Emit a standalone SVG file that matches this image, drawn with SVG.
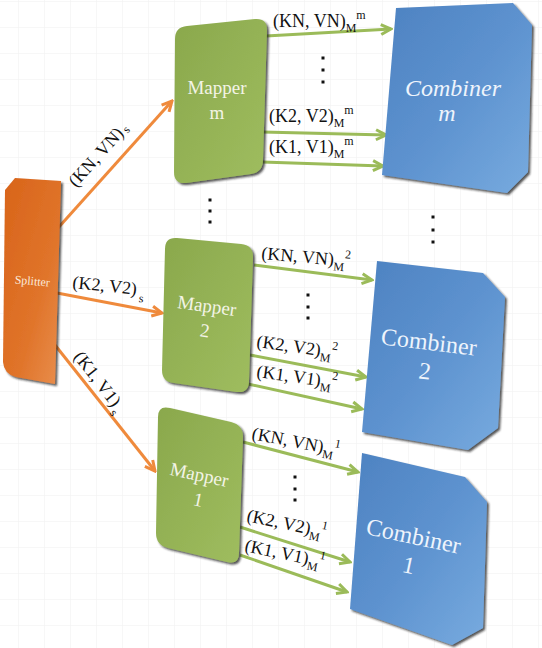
<svg xmlns="http://www.w3.org/2000/svg" width="542" height="648" viewBox="0 0 542 648">
<defs>
<pattern id="grid" x="18" y="1" width="26" height="26" patternUnits="userSpaceOnUse">
<path d="M0,0 H26 M0,0 V26" fill="none" stroke="#efefef" stroke-width="1"/>
</pattern>
<linearGradient id="gOr" x1="0" y1="0" x2="1" y2="1">
<stop offset="0" stop-color="#d8641a"/><stop offset="0.6" stop-color="#e0742a"/><stop offset="1" stop-color="#e98f4e"/>
</linearGradient>
<linearGradient id="gGr" x1="0" y1="0" x2="1" y2="1">
<stop offset="0" stop-color="#8aa84c"/><stop offset="1" stop-color="#9fbd5f"/>
</linearGradient>
<linearGradient id="gBl" x1="0" y1="0" x2="1" y2="1">
<stop offset="0" stop-color="#4d82c1"/><stop offset="0.5" stop-color="#5d92cf"/><stop offset="1" stop-color="#78abdf"/>
</linearGradient>
<filter id="sh" x="-10%" y="-10%" width="125%" height="125%">
<feDropShadow dx="2" dy="2" stdDeviation="1.2" flood-color="#1a1a1a" flood-opacity="0.75"/>
</filter>
<marker id="aO" markerUnits="userSpaceOnUse" viewBox="0 0 14 14" markerWidth="14" markerHeight="14" refX="12" refY="7" orient="auto">
<path d="M2,2 L12,7 L2,12" fill="none" stroke="#ef8a3c" stroke-width="3"/>
</marker>
<marker id="aG" markerUnits="userSpaceOnUse" viewBox="0 0 14 14" markerWidth="14" markerHeight="14" refX="12" refY="7" orient="auto">
<path d="M2,2 L12,7 L2,12" fill="none" stroke="#9bbb59" stroke-width="3"/>
</marker>
</defs>
<style>
.or{fill:none;stroke:#ef8a3c;stroke-width:3;marker-end:url(#aO)}
.gr{fill:none;stroke:#9bbb59;stroke-width:3;marker-end:url(#aG)}
.lbl{font-family:"Liberation Serif","DejaVu Serif",serif;font-size:18px;fill:#111}
.sm{font-size:12px}
.mp{font-family:"Liberation Serif","DejaVu Serif",serif;font-size:19px;fill:#f3f4e6;text-anchor:middle}
.cb{font-family:"Liberation Serif","DejaVu Serif",serif;font-size:24px;fill:#eef4fc;text-anchor:middle}
.dot{fill:#111}
</style>
<rect width="542" height="648" fill="#ffffff"/>
<rect width="542" height="648" fill="url(#grid)"/>

<g id="connectors">
<path class="or" d="M58,228 L172,101"/>
<path class="or" d="M57,293 L162,313"/>
<path class="or" d="M55,345 L155,471"/>
<path class="gr" d="M266,36 L391,29"/>
<path class="gr" d="M262,132 L386,135"/>
<path class="gr" d="M262,162 L383,166"/>
<path class="gr" d="M254,265 L372,280"/>
<path class="gr" d="M250,355 L366,377"/>
<path class="gr" d="M248,384 L362,409"/>
<path class="gr" d="M243,442 L358,472"/>
<path class="gr" d="M240,527 L350,562"/>
<path class="gr" d="M240,555 L347,592"/>
<g class="lbl">
<text transform="translate(76,188) rotate(-48)">(KN, VN)<tspan class="sm" dx="2" dy="2">s</tspan></text>
<text transform="translate(72,288) rotate(6)">(K2, V2)<tspan class="sm" dx="3" dy="7">s</tspan></text>
<text transform="translate(73,357) rotate(52)">(K1, V1)<tspan class="sm" dx="2" dy="6">s</tspan></text>
<text x="273" y="27">(KN, VN)<tspan class="sm" dy="5">M</tspan><tspan class="sm" dy="-13">m</tspan></text>
<text x="269" y="122">(K2, V2)<tspan class="sm" dy="5">M</tspan><tspan class="sm" dy="-13">m</tspan></text>
<text x="269" y="153">(K1, V1)<tspan class="sm" dy="5">M</tspan><tspan class="sm" dy="-13">m</tspan></text>
<text transform="translate(261,259) rotate(5)">(KN, VN)<tspan class="sm" dy="5">M</tspan><tspan class="sm" dy="-13">2</tspan></text>
<text transform="translate(256,347) rotate(8)">(K2, V2)<tspan class="sm" dy="5">M</tspan><tspan class="sm" dy="-13">2</tspan></text>
<text transform="translate(256,377) rotate(8)">(K1, V1)<tspan class="sm" dy="5">M</tspan><tspan class="sm" dy="-13">2</tspan></text>
<text transform="translate(251,439) rotate(11)">(KN, VN)<tspan class="sm" dy="5">M</tspan><tspan class="sm" dy="-13">1</tspan></text>
<text transform="translate(246,521) rotate(12)">(K2, V2)<tspan class="sm" dy="5">M</tspan><tspan class="sm" dy="-13">1</tspan></text>
<text transform="translate(244,551) rotate(12)">(K1, V1)<tspan class="sm" dy="5">M</tspan><tspan class="sm" dy="-13">1</tspan></text>
</g>
<g class="dot">
<rect x="321.5" y="56.5" width="3" height="3"/><rect x="321.5" y="68.5" width="3" height="3"/><rect x="321.5" y="80.5" width="3" height="3"/>
<rect x="208.5" y="198.5" width="3" height="3"/><rect x="208.5" y="209.5" width="3" height="3"/><rect x="208.5" y="220.5" width="3" height="3"/>
<rect x="306.5" y="293.5" width="3" height="3"/><rect x="306.5" y="305.5" width="3" height="3"/><rect x="306.5" y="316.5" width="3" height="3"/>
<rect x="293.5" y="475.5" width="3" height="3"/><rect x="293.5" y="487.5" width="3" height="3"/><rect x="293.5" y="498.5" width="3" height="3"/>
<rect x="431.5" y="215.5" width="3" height="3"/><rect x="431.5" y="228.5" width="3" height="3"/><rect x="431.5" y="240.5" width="3" height="3"/>
</g>
</g>

<g id="splitter">
<path d="M15,178 L61,181 L55,384 L16,377 Q4,374 3,362 L5,190 Z" fill="url(#gOr)" filter="url(#sh)"/>
<text transform="translate(32,285) rotate(5)" font-family="Liberation Serif, DejaVu Serif, serif" font-size="12" fill="#fbeadb" text-anchor="middle">Splitter</text>
</g>

<g id="mapper-m">
<path d="M175,39 Q175,27 187,26 L255,19 Q267,18 267,30 L263,160 Q263,172 251,174 L186,183 Q174,184 174,172 Z" fill="url(#gGr)" filter="url(#sh)"/>
<text class="mp" x="217" y="94">Mapper</text>
<text class="mp" x="217" y="119">m</text>
</g>
<g id="mapper-2">
<path d="M165,249 Q165,237 177,238 L241,244 Q253,245 253,257 L249,381 Q249,393 237,392 L174,383 Q162,382 162,370 Z" fill="url(#gGr)" filter="url(#sh)"/>
<text class="mp" transform="translate(206,312) rotate(8)">Mapper</text>
<text class="mp" transform="translate(204,337) rotate(8)">2</text>
</g>
<g id="mapper-1">
<path d="M158,417 Q158,405 170,408 L231,422 Q243,425 243,437 L239,553 Q239,565 227,562 L168,548 Q156,545 156,533 Z" fill="url(#gGr)" filter="url(#sh)"/>
<text class="mp" transform="translate(198,481) rotate(12)">Mapper</text>
<text class="mp" transform="translate(197,506) rotate(12)">1</text>
</g>

<g id="combiner-m">
<path d="M396,8 L513,3 L532,25 L528,172 L507,193 L382,175 Z" fill="url(#gBl)" filter="url(#sh)"/>
<text class="cb" x="453" y="96" font-style="italic">Combiner</text>
<text class="cb" x="447" y="121" font-style="italic">m</text>
</g>
<g id="combiner-2">
<path d="M377,261 L483,273 L505,297 L498,428 L468,450 L362,432 Z" fill="url(#gBl)" filter="url(#sh)"/>
<text class="cb" transform="translate(428,350) rotate(7)">Combiner</text>
<text class="cb" transform="translate(424,379) rotate(7)">2</text>
</g>
<g id="combiner-1">
<path d="M362,453 L465,477 L487,502 L483,628 L452,645 L350,609 Z" fill="url(#gBl)" filter="url(#sh)"/>
<text class="cb" transform="translate(412,544) rotate(12)">Combiner</text>
<text class="cb" transform="translate(407,573) rotate(12)">1</text>
</g>
</svg>
